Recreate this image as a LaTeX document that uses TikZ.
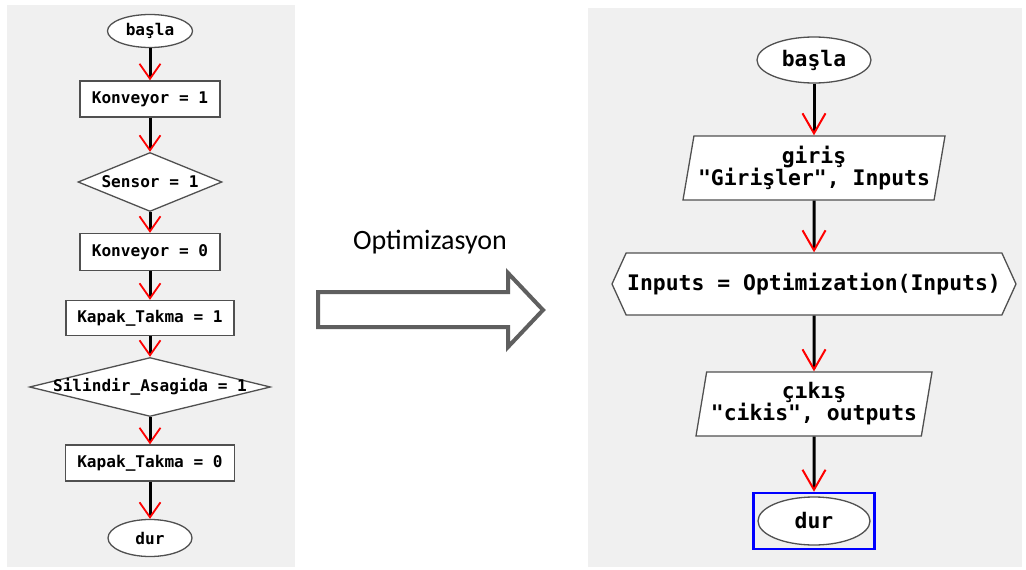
\documentclass[tikz,border=0pt]{standalone}
\usepackage{fontspec}
\usetikzlibrary{shapes.geometric,shapes.symbols,arrows.meta}
\newfontfamily\flowfont{DejaVu Sans Mono}[BoldFont={DejaVu Sans Mono Bold}]
\newfontfamily\calfont{Carlito}
\definecolor{panel}{HTML}{F0F0F0}
\definecolor{edgegray}{HTML}{505050}
\definecolor{bigarrow}{HTML}{5F5F5F}
\tikzset{
  box/.style={draw=edgegray, line width=1.3pt, fill=white, inner sep=0pt},
  lt/.style={font=\flowfont\bfseries\fontsize{16.1}{18}\selectfont},
  rt/.style={font=\flowfont\bfseries\fontsize{21.4}{22}\selectfont, align=center},
  term/.style={box, ellipse},
  proc/.style={box, rectangle},
  dec/.style={box, diamond},
  io/.style={box, trapezium, trapezium left angle=76, trapezium right angle=104, trapezium stretches body=true},
  prep/.style={box, signal, signal to=west and east, signal pointer angle=131},
  lflow/.style={line width=3pt, black, -{Straight Barb[color=red, line width=1.8pt, length=15pt, width=21pt]}},
  rflow/.style={line width=3pt, black, -{Straight Barb[color=red, line width=2pt, length=20pt, width=23pt]}},
}
\begin{document}
\begin{tikzpicture}[x=1pt, y=-1pt]
\useasboundingbox (0,0) rectangle (1026,570);
\fill[white] (0,0) rectangle (1026,570);
\fill[panel] (7,5) rectangle (295,567);
\fill[panel] (588,8) rectangle (1022,567);

% left flowchart
\node[term, lt, minimum width=85pt, minimum height=33pt] (s1) at (150,31) {başla};
\node[proc, lt, minimum width=140pt, minimum height=36pt] (k1) at (150,99) {Konveyor = 1};
\node[dec, minimum width=144pt, minimum height=59pt, label={[lt]center:Sensor = 1}] (d1) at (150,182) {};
\node[proc, lt, minimum width=140pt, minimum height=37pt] (k0) at (150,252) {Konveyor = 0};
\node[proc, lt, minimum width=168pt, minimum height=35pt] (t1) at (150,318) {Kapak\_Takma = 1};
\node[dec, minimum width=241pt, minimum height=59pt, label={[lt]center:Silindir\_Asagida = 1}] (d2) at (150,387) {};
\node[proc, lt, minimum width=169pt, minimum height=36pt] (t0) at (150,463) {Kapak\_Takma = 0};
\node[term, lt, minimum width=84pt, minimum height=37pt] (e1) at (150,538) {dur};

\draw[lflow] (s1) -- (k1);
\draw[lflow] (k1) -- (d1);
\draw[lflow] (d1) -- (k0);
\draw[lflow] (k0) -- (t1);
\draw[lflow] (t1) -- (d2);
\draw[lflow] (d2) -- (t0);
\draw[lflow] (t0) -- (e1);

% middle
\node[font=\calfont\fontsize{28}{32}\selectfont] (opt) at (430,242) {Optimizasyon};
\draw[bigarrow, line width=4pt, fill=white, line join=miter]
  (318,292) -- (508,292) -- (508,273) -- (543,310) -- (508,347) -- (508,327) -- (318,327) -- cycle;

% right flowchart
\node[term, rt, minimum width=114pt, minimum height=46pt] (r1) at (814,60) {başla};
\node[io, rt, minimum width=262pt, minimum height=64pt] (r2) at (814,168) {giriş\\"Girişler", Inputs};
\node[prep, rt, minimum width=404pt, minimum height=62pt] (r3) at (814,284) {Inputs = Optimization(Inputs)};
\node[io, rt, minimum width=236pt, minimum height=64pt] (r4) at (814,404) {çıkış\\"cikis", outputs};
\node[term, rt, minimum width=112pt, minimum height=48pt] (r5) at (814,521) {dur};
\node[draw=blue, line width=2.5pt, minimum width=121pt, minimum height=56pt, inner sep=0pt] (sel) at (814,521) {};

\draw[rflow] (r1) -- (r2);
\draw[rflow] (r2) -- (r3);
\draw[rflow] (r3) -- (r4);
\draw[rflow] (r4) -- (sel.north);
\end{tikzpicture}
\end{document}
